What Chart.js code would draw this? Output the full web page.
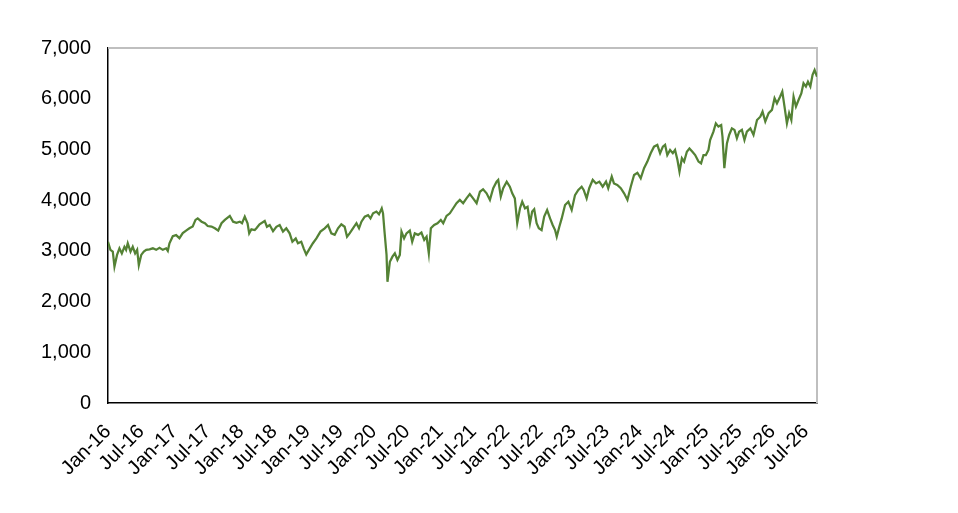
<!DOCTYPE html>
<html>
<head>
<meta charset="utf-8">
<script src="https://cdn.jsdelivr.net/npm/chart.js@4.4.1/dist/chart.umd.min.js"></script>
<style>
  html, body { margin: 0; padding: 0; background: #ffffff; }
  #wrap { width: 958px; height: 513px; }
</style>
</head>
<body>
<div id="wrap"><canvas id="c" width="958" height="513"></canvas></div>
<script>
const dates = [
  "2016-01-01","2016-01-14","2016-01-27","2016-02-06","2016-02-20","2016-03-03","2016-03-16","2016-03-30",
  "2016-04-09","2016-04-18","2016-05-03","2016-05-15","2016-05-28","2016-06-09","2016-06-18","2016-07-01",
  "2016-07-15","2016-07-28","2016-08-16","2016-09-04","2016-09-22","2016-10-10","2016-10-28","2016-11-16",
  "2016-11-25","2016-12-04","2016-12-22","2017-01-10","2017-01-28","2017-02-16","2017-03-04","2017-03-22",
  "2017-04-10","2017-04-25","2017-05-07","2017-05-28","2017-06-16","2017-07-01","2017-07-22","2017-08-10",
  "2017-08-28","2017-09-16","2017-10-04","2017-11-01","2017-11-19","2017-12-07","2017-12-25","2018-01-07",
  "2018-01-22","2018-02-07","2018-02-16","2018-02-28","2018-03-16","2018-03-25","2018-04-12","2018-05-10",
  "2018-05-22","2018-06-07","2018-06-25","2018-07-13","2018-08-01","2018-08-19","2018-09-07","2018-09-25",
  "2018-10-10","2018-10-28","2018-11-10","2018-11-28","2018-12-11","2018-12-25","2019-01-14","2019-02-01",
  "2019-02-20","2019-03-12","2019-04-05","2019-04-23","2019-05-11","2019-05-29","2019-06-17","2019-07-05",
  "2019-07-23","2019-08-06","2019-08-20","2019-09-08","2019-09-27","2019-10-11","2019-10-24","2019-11-12",
  "2019-11-30","2019-12-13","2019-12-27","2020-01-15","2020-01-29","2020-02-14","2020-02-21","2020-02-29",
  "2020-03-10","2020-03-15","2020-03-28","2020-04-12","2020-04-25","2020-05-09","2020-05-22","2020-06-01",
  "2020-06-15","2020-06-28","2020-07-16","2020-07-29","2020-08-13","2020-09-01","2020-09-19","2020-10-04",
  "2020-10-17","2020-10-29","2020-11-10","2020-11-28","2020-12-16","2021-01-04","2021-01-17","2021-02-05",
  "2021-02-23","2021-03-11","2021-03-29","2021-04-17","2021-05-05","2021-05-23","2021-06-11","2021-06-29",
  "2021-07-18","2021-08-06","2021-08-23","2021-09-12","2021-09-30","2021-10-18","2021-11-06","2021-11-15",
  "2021-11-29","2021-12-12","2021-12-31","2022-01-18","2022-02-01","2022-02-15","2022-02-28","2022-03-13",
  "2022-03-25","2022-04-10","2022-04-24","2022-05-07","2022-05-19","2022-05-30","2022-06-13","2022-06-25",
  "2022-07-10","2022-07-24","2022-08-10","2022-08-26","2022-09-10","2022-09-23","2022-10-02","2022-10-16",
  "2022-10-29","2022-11-17","2022-12-05","2022-12-23","2023-01-11","2023-01-29","2023-02-17","2023-02-28",
  "2023-03-14","2023-03-28","2023-04-17","2023-05-05","2023-05-23","2023-06-11","2023-06-29","2023-07-11",
  "2023-07-30","2023-08-12","2023-08-30","2023-09-19","2023-10-07","2023-10-25","2023-11-13","2023-12-01",
  "2023-12-19","2024-01-07","2024-01-25","2024-02-13","2024-03-01","2024-03-19","2024-04-07","2024-04-22",
  "2024-05-07","2024-05-19","2024-06-01","2024-06-16","2024-07-01","2024-07-13","2024-07-26","2024-08-07",
  "2024-08-20","2024-09-02","2024-09-17","2024-10-01","2024-10-17","2024-11-02","2024-11-20","2024-12-04",
  "2024-12-17","2024-12-30","2025-01-14","2025-01-23","2025-02-11","2025-02-24","2025-03-08","2025-03-23",
  "2025-03-30","2025-04-10","2025-04-24","2025-05-06","2025-05-21","2025-06-05","2025-06-18","2025-06-30",
  "2025-07-15","2025-07-29","2025-08-12","2025-08-31","2025-09-18","2025-10-07","2025-10-25","2025-11-07",
  "2025-11-22","2025-12-10","2025-12-28","2026-01-12","2026-01-25","2026-02-12","2026-02-24","2026-03-06",
  "2026-03-19","2026-04-01","2026-04-13","2026-04-25","2026-05-08","2026-05-22","2026-06-07","2026-06-19",
  "2026-07-02","2026-07-13","2026-07-26","2026-08-08","2026-08-19","2026-09-02"
];

const values = [
  3180,3020,2985,2690,2920,3050,2950,3080,
  3020,3150,2985,3080,2950,3020,2720,2920,
  2985,3020,3030,3050,3020,3060,3020,3050,
  3000,3150,3290,3310,3250,3350,3400,3445,
  3480,3610,3640,3575,3545,3490,3480,3445,
  3400,3545,3610,3690,3575,3555,3575,3545,
  3675,3545,3345,3425,3410,3445,3525,3590,
  3475,3510,3390,3475,3510,3380,3445,3345,
  3180,3245,3150,3180,3050,2930,3050,3150,
  3245,3380,3445,3510,3345,3315,3445,3525,
  3475,3280,3345,3445,3545,3445,3575,3675,
  3705,3640,3740,3775,3720,3840,3740,3380,
  2920,2390,2785,2885,2950,2820,2920,3380,
  3245,3345,3400,3180,3345,3315,3360,3215,
  3280,2950,3445,3510,3545,3610,3545,3690,
  3740,3840,3940,4005,3940,4035,4120,4035,
  3940,4165,4215,4135,4005,4235,4365,4400,
  4070,4235,4365,4265,4135,4035,3545,3840,
  3970,3840,3870,3545,3775,3820,3545,3445,
  3410,3675,3805,3640,3510,3410,3280,3475,
  3640,3905,3970,3805,4100,4200,4265,4200,
  4035,4235,4400,4330,4365,4265,4365,4235,
  4465,4330,4300,4235,4135,4005,4265,4495,
  4540,4430,4630,4760,4925,5055,5090,4925,
  5055,5090,4890,4990,4925,4990,4790,4560,
  4825,4760,4955,5020,4955,4890,4760,4725,
  4890,4890,4990,5185,5350,5515,5450,5480,
  5250,4630,5120,5285,5415,5385,5220,5350,
  5385,5185,5350,5415,5285,5580,5645,5745,
  5550,5715,5780,6010,5910,6040,6140,5845,
  5515,5715,5580,6040,5845,5975,6105,6305,
  6240,6335,6240,6470,6565,6435
];

const tickLabels = [
  "Jan-16","Jul-16","Jan-17","Jul-17","Jan-18","Jul-18","Jan-19","Jul-19",
  "Jan-20","Jul-20","Jan-21","Jul-21","Jan-22","Jul-22","Jan-23","Jul-23",
  "Jan-24","Jul-24","Jan-25","Jul-25","Jan-26","Jul-26"
];

const yTicks = [0, 1000, 2000, 3000, 4000, 5000, 6000, 7000];

function toMonths(s) {
  const p = s.split('-').map(Number);
  return (p[0] - 2016) * 12 + (p[1] - 1) + (p[2] - 1) / 30;
}

const points = dates.map((d, i) => ({ x: toMonths(d), y: values[i] }));
const tickValues = tickLabels.map((_, i) => i * 6);
const xMax = toMonths(dates[dates.length - 1]);

const frame = {
  id: 'frame',
  beforeDatasetsDraw(chart) {
    const a = chart.chartArea, ctx = chart.ctx;
    ctx.save();
    ctx.strokeStyle = '#bfbfbf';
    ctx.lineWidth = 2;
    ctx.beginPath();
    ctx.moveTo(a.left, a.top);
    ctx.lineTo(a.right, a.top);
    ctx.lineTo(a.right, a.bottom);
    ctx.stroke();
    ctx.restore();
  }
};

const font = { family: "'Liberation Sans', Arial, sans-serif", size: 20 };

new Chart(document.getElementById('c'), {
  type: 'line',
  data: {
    datasets: [{
      data: points,
      borderColor: '#548235',
      borderWidth: 2.25,
      pointRadius: 0,
      tension: 0,
      fill: false
    }]
  },
  options: {
    responsive: false,
    animation: false,
    devicePixelRatio: 1,
    layout: { padding: { left: 0, right: 141, top: 48, bottom: 0 } },
    plugins: { legend: { display: false }, tooltip: { enabled: false } },
    scales: {
      x: {
        type: 'linear',
        min: 0,
        max: xMax,
        grid: { display: false, drawTicks: false },
        border: { display: true, color: '#000000', width: 1.5 },
        afterBuildTicks(scale) { scale.ticks = tickValues.map(v => ({ value: v })); },
        afterFit(scale) { scale.height = 110; },
        ticks: {
          autoSkip: false,
          minRotation: 45,
          maxRotation: 45,
          padding: 17,
          labelOffset: 0,
          color: '#000000',
          font: font,
          callback: (v) => tickLabels[Math.round(v / 6)]
        }
      },
      y: {
        min: 0,
        max: 7000,
        grid: { display: false, drawTicks: false },
        border: { display: true, color: '#000000', width: 1.5 },
        afterBuildTicks(scale) { scale.ticks = yTicks.map(v => ({ value: v })); },
        afterFit(scale) { scale.width = 108; },
        ticks: {
          padding: 17,
          color: '#000000',
          font: font,
          callback: (v) => v.toLocaleString('en-US')
        }
      }
    }
  },
  plugins: [frame]
});
</script>
</body>
</html>
